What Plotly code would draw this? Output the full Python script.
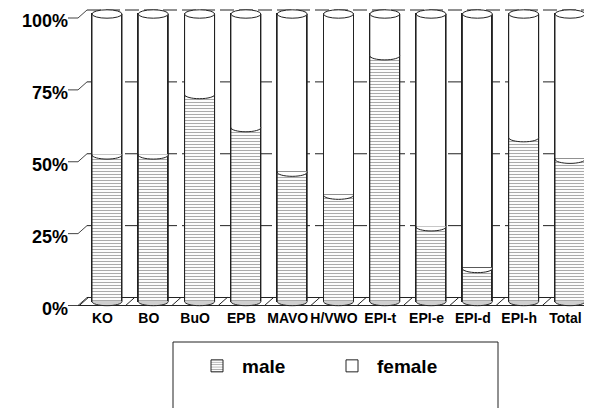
import plotly.graph_objects as go

# ---------------- data ----------------
categories = ["KO", "BO", "BuO", "EPB", "MAVO", "H/VWO", "EPI-t", "EPI-e", "EPI-d", "EPI-h", "Total"]
male = [51, 51, 72, 60.5, 45, 37, 85.5, 26, 11.5, 57, 49.5]
female = [49, 49, 28, 39.5, 55, 63, 14.5, 74, 88.5, 43, 50.5]
y_ticks = [0, 25, 50, 75, 100]
y_tick_labels = ["0%", "25%", "50%", "75%", "100%"]

# ---------------- geometry (layout only, in screen px) ----------------
OFF = 8                      # page body margin
W, H = 592 - OFF, 408 - OFF
PL, PR, PT, PB = 74, 592, 8, 308       # plot area in screen px
L, R, T, B = PL - OFF, 592 - PR, PT - OFF, 408 - PB
plot_w = PR - PL
plot_h = PB - PT
PX_X = 46.3          # px per category
CAT0_PX = 107        # px of first category centre
PX_Y = 2.875         # px per percent
Y0_PX = 301.5        # px of 0 %
x_range = [(PL - CAT0_PX) / PX_X, (PR - CAT0_PX) / PX_X]
y_range = [-(PB - Y0_PX) / PX_Y, (Y0_PX - PT) / PX_Y]


def xp(px):
    return (px - PL) / plot_w


def yp(py):
    return (PB - py) / plot_h


def ypx(v):
    return Y0_PX - v * PX_Y


DEPTH = 4.0                      # half depth in px
dy = DEPTH / PX_Y
dx = 4.5 / PX_X
bar_w = 30 / PX_X
a = bar_w / 2
b = 4.2 / PX_Y
k = 0.5523
eps = 0.6 / PX_Y
FONT = "Liberation Sans, Arial, sans-serif"

fig = go.Figure()
fig.add_trace(go.Bar(
    x=list(range(len(categories))), y=male, name="male", width=bar_w,
    marker=dict(color="white", line=dict(color="#222", width=1),
                pattern=dict(shape="-", size=3, solidity=0.36, fgcolor="#555", bgcolor="white")),
))
fig.add_trace(go.Bar(
    x=list(range(len(categories))), y=female, name="female", width=bar_w,
    marker=dict(color="white", line=dict(color="#222", width=1)),
))

shapes = []
line_col = "#222"

# back wall grid lines, connectors and floor
for v in y_ticks:
    front_px = ypx(v) + DEPTH
    back_px = ypx(v) - DEPTH
    shapes.append(dict(type="path", xref="paper", yref="paper", layer="below",
                       path=f"M {xp(68)},{yp(front_px)} L {xp(78)},{yp(front_px)} "
                            f"L {xp(87)},{yp(back_px)}",
                       line=dict(color="#444", width=1)))
    if v == 0:
        shapes.append(dict(type="line", xref="paper", yref="paper", layer="below",
                           x0=xp(87), x1=1, y0=yp(back_px), y1=yp(back_px),
                           line=dict(color=line_col, width=1)))
        shapes.append(dict(type="line", xref="paper", yref="paper", layer="below",
                           x0=xp(78), x1=1, y0=yp(front_px), y1=yp(front_px),
                           line=dict(color=line_col, width=1)))
    else:
        shapes.append(dict(type="line", xref="paper", yref="paper", layer="below",
                           x0=xp(87), x1=1, y0=yp(back_px), y1=yp(back_px),
                           line=dict(color=line_col, width=1, dash="14px,5px")))

# floor division slants
for i in range(len(categories) + 1):
    c = i - 0.5
    shapes.append(dict(type="line", xref="x", yref="y", layer="below",
                       x0=c - dx, x1=c + dx, y0=-dy, y1=dy,
                       line=dict(color=line_col, width=1)))


def half_arc(cx, cy):
    return (f"C {cx - a},{cy - k * b} {cx - k * a},{cy - b} {cx},{cy - b} "
            f"C {cx + k * a},{cy - b} {cx + a},{cy - k * b} {cx + a},{cy}")


for i, m in enumerate(male):
    cx = i
    # bottom cap
    shapes.append(dict(type="path", xref="x", yref="y", layer="above",
                       path=f"M {cx - a},{eps} L {cx - a},0 {half_arc(cx, 0)} L {cx + a},{eps} Z",
                       fillcolor="#cfcfcf", line=dict(width=0)))
    shapes.append(dict(type="path", xref="x", yref="y", layer="above",
                       path=f"M {cx - a},0 {half_arc(cx, 0)}",
                       fillcolor="rgba(0,0,0,0)", line=dict(color=line_col, width=1)))
    # male / female boundary
    shapes.append(dict(type="path", xref="x", yref="y", layer="above",
                       path=f"M {cx - a},{m + eps} L {cx - a},{m} {half_arc(cx, m)} L {cx + a},{m + eps} Z",
                       fillcolor="white", line=dict(width=0)))
    shapes.append(dict(type="path", xref="x", yref="y", layer="above",
                       path=f"M {cx - a},{m} {half_arc(cx, m)}",
                       fillcolor="rgba(0,0,0,0)", line=dict(color=line_col, width=1)))
    # sides
    shapes.append(dict(type="path", xref="x", yref="y", layer="above",
                       path=f"M {cx - a},0 L {cx - a},100 M {cx + a},0 L {cx + a},100",
                       line=dict(color=line_col, width=1)))
    # top ellipse
    shapes.append(dict(type="circle", xref="x", yref="y", layer="above",
                       x0=cx - a, x1=cx + a, y0=100 - b, y1=100 + b,
                       fillcolor="white", line=dict(color=line_col, width=1)))

# legend box
shapes.append(dict(type="rect", xref="paper", yref="paper",
                   x0=xp(173), x1=xp(498), y0=yp(342), y1=yp(420),
                   line=dict(color="#222", width=1), fillcolor="rgba(0,0,0,0)"))

fig.update_layout(
    width=W, height=H,
    margin=dict(l=L, r=R, t=T, b=B, pad=0, autoexpand=False),
    barmode="stack",
    plot_bgcolor="white", paper_bgcolor="white",
    shapes=shapes,
    showlegend=True,
    legend=dict(orientation="h", x=xp(192), xanchor="left",
                y=yp(366), yanchor="middle", traceorder="normal",
                font=dict(family=FONT, size=19, color="black", weight="bold"),
                itemwidth=40, entrywidth=80, entrywidthmode="pixels",
                bgcolor="rgba(0,0,0,0)", borderwidth=0),
    xaxis=dict(range=x_range, tickmode="array", automargin=False, tickangle=0,
               tickvals=[i - dx for i in range(len(categories))], ticktext=categories,
               showgrid=False, zeroline=False, showline=False, ticks="",
               tickfont=dict(family=FONT, size=14, color="black", weight="bold")),
    yaxis=dict(range=y_range, tickmode="array", tickvals=y_ticks, ticktext=y_tick_labels,
               automargin=False,
               showgrid=False, zeroline=False, showline=False, ticks="",
               ticklabelshift=7, ticklabelstandoff=5, ticklabeloverflow="allow",
               tickfont=dict(family=FONT, size=18, color="black", weight="bold")),
    bargap=0,
)

fig.write_html("out.html")
